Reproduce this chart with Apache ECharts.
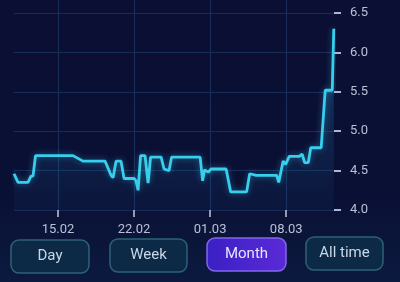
<!DOCTYPE html>
<html>
<head>
<meta charset="utf-8">
<script src="https://cdn.jsdelivr.net/npm/echarts@6/dist/echarts.min.js"></script>
<style>
html,body{margin:0;padding:0;background:#0a0f33;}
#c{width:400px;height:282px;}
</style>
</head>
<body>
<div id="c"></div>
<script>
// Day numbers counted from 1 Feb (01.03 = day 29)
const days = [10.95, 11.32, 12.24, 12.51, 12.70, 12.93, 16.38, 17.30, 19.33, 19.88, 20.07, 20.34, 20.80, 21.08, 22.00, 22.18, 22.37, 22.60, 23.01, 23.29, 23.52, 24.49, 24.76, 25.22, 25.45, 28.08, 28.31, 28.49, 28.82, 29.09, 30.47, 30.89, 32.36, 32.64, 33.24, 35.13, 35.31, 35.72, 35.95, 36.28, 37.20, 37.47, 37.70, 38.03, 38.26, 39.22, 39.59, 40.24, 40.38];
const values = [4.46, 4.35, 4.35, 4.43, 4.43, 4.69, 4.69, 4.62, 4.62, 4.44, 4.41, 4.62, 4.62, 4.40, 4.40, 4.37, 4.25, 4.69, 4.69, 4.34, 4.67, 4.67, 4.52, 4.50, 4.67, 4.67, 4.37, 4.51, 4.48, 4.52, 4.52, 4.23, 4.23, 4.46, 4.44, 4.44, 4.35, 4.62, 4.58, 4.68, 4.68, 4.71, 4.60, 4.60, 4.79, 4.79, 5.52, 5.52, 6.30];
const xTickValues = [15, 22, 29, 36];
const xTickLabels = ['15.02', '22.02', '01.03', '08.03'];
const yTickValues = [4.0, 4.5, 5.0, 5.5, 6.0, 6.5];
const buttonLabels = ['Day', 'Week', 'Month', 'All time'];
const activeButton = 'Month';

const chart = echarts.init(document.getElementById('c'), null, {renderer: 'canvas'});
const data = days.map((d, i) => [d, values[i]]);

const btnBoxes = [
  {x: 11, y: 240, w: 78, h: 33},
  {x: 110, y: 239, w: 77, h: 33},
  {x: 207, y: 238, w: 79, h: 33},
  {x: 306, y: 237, w: 77, h: 33}
];
const graphics = [
  {type: 'rect', z: -10, silent: true, shape: {x: 0, y: 0, width: 400, height: 282},
   style: {fill: new echarts.graphic.LinearGradient(0, 0, 0, 1, [
     {offset: 0, color: '#0a0f33'}, {offset: 0.7, color: '#0a1035'}, {offset: 1, color: '#0c1a3f'}])}}
];
buttonLabels.forEach((t, i) => {
  const b = btnBoxes[i];
  const active = t === activeButton;
  graphics.push({
    type: 'group', x: b.x, y: b.y,
    children: [
      {type: 'rect', shape: {x: 0, y: 0, width: b.w, height: b.h, r: 8},
       style: active ? {
         fill: new echarts.graphic.LinearGradient(0, 0, 1, 0, [{offset: 0, color: '#3a20c4'}, {offset: 1, color: '#5a2ad6'}]),
         stroke: '#8466ee', lineWidth: 1.5
       } : {fill: '#0c2a45', stroke: '#2c6278', lineWidth: 1.5}},
      {type: 'text', style: {text: t, x: b.w / 2, y: b.h / 2, align: 'center', verticalAlign: 'middle',
        fill: active ? '#e6e4ff' : '#c9d6e8', font: '15px Roboto, "Noto Sans", sans-serif'}}
    ]
  });
});

chart.setOption({
  backgroundColor: 'transparent',
  animation: false,
  graphic: graphics,
  grid: {left: 14, right: 66, top: 0, bottom: 72},
  xAxis: {
    type: 'value', min: 10.95, max: 40.4,
    axisLine: {show: false},
    axisTick: {show: true, customValues: xTickValues, length: 7, lineStyle: {color: '#c2c9dc', width: 1.5}},
    axisLabel: {customValues: xTickValues, margin: 13, color: '#b9c1d6', fontSize: 13,
      fontFamily: 'Roboto, "Noto Sans", sans-serif',
      formatter: v => xTickLabels[xTickValues.indexOf(v)] || ''},
    splitLine: {show: true, lineStyle: {color: '#172d58', width: 1.2}}
  },
  yAxis: {
    type: 'value', position: 'right', min: 4, max: 6.665,
    axisLine: {show: false},
    axisTick: {show: true, inside: false, customValues: yTickValues, length: 7, lineStyle: {color: '#c2c9dc', width: 1.8}},
    axisLabel: {customValues: yTickValues, margin: 16, color: '#b9c1d6', fontSize: 13,
      fontFamily: 'Roboto, "Noto Sans", sans-serif',
      formatter: v => v.toFixed(1)},
    splitLine: {show: true, lineStyle: {color: '#172d58', width: 1.2}}
  },
  series: [{
    type: 'line', data: data, symbol: 'none', smooth: false,
    lineStyle: {color: '#38cfee', width: 2.8, shadowBlur: 6, shadowColor: 'rgba(58,208,238,0.45)'},
    areaStyle: {color: new echarts.graphic.LinearGradient(0, 0, 0, 1, [
      {offset: 0, color: 'rgba(40,170,220,0.5)'},
      {offset: 0.6, color: 'rgba(40,150,210,0.2)'},
      {offset: 1, color: 'rgba(40,150,210,0.05)'}])}
  }]
});
</script>
</body>
</html>
